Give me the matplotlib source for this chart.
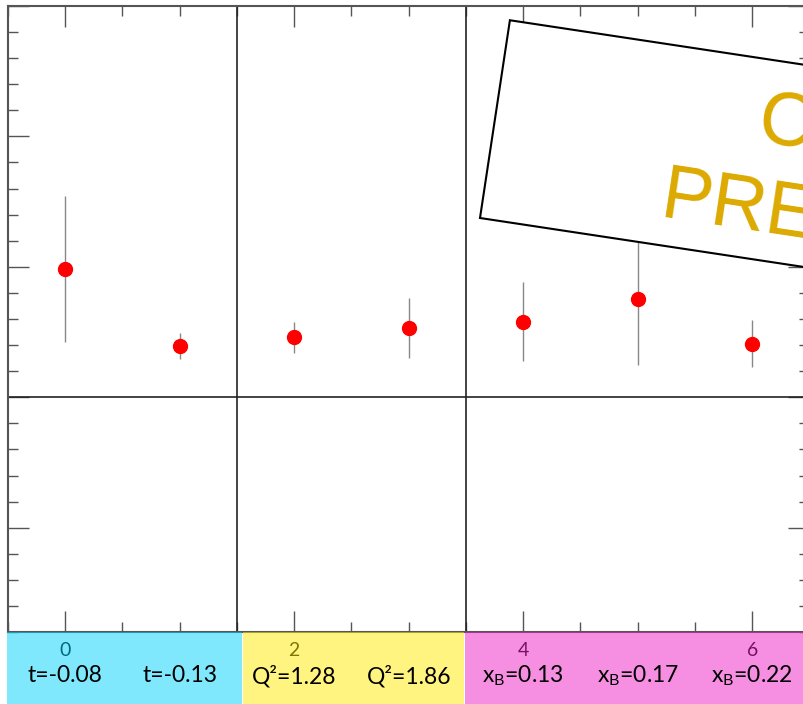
import matplotlib.pyplot as plt
from matplotlib.patches import Rectangle
from matplotlib.transforms import Affine2D, blended_transform_factory
from matplotlib.ticker import MultipleLocator

# bin index, asymmetry and its error
bins = [0, 1, 2, 3, 4, 5, 6]
asym = [0.098, 0.039, 0.046, 0.053, 0.058, 0.075, 0.041]
err = [0.056, 0.010, 0.012, 0.023, 0.030, 0.050, 0.018]
bin_labels = ["t=-0.08", "t=-0.13", "Q²=1.28", "Q²=1.86",
              r"x$_\mathrm{B}$=0.13", r"x$_\mathrm{B}$=0.17", r"x$_\mathrm{B}$=0.22"]
group_edges = [(-0.51, 1.54), (1.55, 3.48), (3.49, 6.6)]
group_colors = ["#00d2fa", "#ffeb00", "#ef1fc7"]
tick_vals = [0, 2, 4, 6]

plt.rcParams['mathtext.fontset'] = 'custom'
plt.rcParams['mathtext.rm'] = 'Lato'

fig = plt.figure(figsize=(8.04, 7.04), dpi=100)
ax = fig.add_axes([8/804, 72/704, 801.5/804, 626/704])

ax.errorbar(bins, asym, yerr=err, fmt='o', color='red', ms=10,
            ecolor='#888888', elinewidth=1, capsize=0, zorder=3)
ax.axhline(0, color='#222222', lw=1.2, zorder=2)
ax.axvline(1.5, color='#222222', lw=1.2, zorder=2)
ax.axvline(3.5, color='#222222', lw=1.2, zorder=2)

ax.set_xlim(-0.5, 6.5)
ax.set_ylim(-0.18, 0.30)
ax.set_xticks(tick_vals)
ax.set_xticklabels([str(v) for v in tick_vals], fontsize=14, family='Lato')
ax.xaxis.set_minor_locator(MultipleLocator(0.5))
ax.yaxis.set_major_locator(MultipleLocator(0.1))
ax.yaxis.set_minor_locator(MultipleLocator(0.02))
ax.tick_params(which='both', direction='in', top=True, right=True,
               color='#555555', labelleft=False)
ax.tick_params(which='major', length=15, width=1, pad=7)
ax.tick_params(which='minor', length=7, width=1)
for s in ax.spines.values():
    s.set_color('#555555')
    s.set_linewidth(1.5)

# coloured bands under the axis
trans = blended_transform_factory(ax.transData, fig.transFigure)
for (x0, x1), c in zip(group_edges, group_colors):
    fig.add_artist(Rectangle((x0, 0), x1 - x0, 0.102, transform=trans,
                             facecolor=c, alpha=0.5, lw=0, zorder=5))
for x, lab in zip(bins, bin_labels):
    fig.text(x, 0.04, lab, transform=trans, ha='center', va='center',
             fontsize=16.5, family='Lato', zorder=6)

# preliminary stamp
rot = Affine2D().rotate_deg_around(4.80, 4.86, -8.6) + fig.dpi_scale_trans
fig.add_artist(Rectangle((4.80, 4.86), 5.0, 2.0, transform=rot,
                         facecolor='white', edgecolor='black', lw=1.5, zorder=10))
fig.text(7.55, 5.63, "CLAS", transform=fig.dpi_scale_trans, fontsize=55,
         family='Liberation Sans', color='#dcaa00', rotation=-8.6,
         rotation_mode='anchor', ha='left', va='baseline', zorder=11)
fig.text(6.59, 4.87, "PRELIMINARY", transform=fig.dpi_scale_trans, fontsize=55,
         family='Liberation Sans', color='#dcaa00', rotation=-8.6,
         rotation_mode='anchor', ha='left', va='baseline', zorder=11)

fig.savefig("out.png", dpi=100)
